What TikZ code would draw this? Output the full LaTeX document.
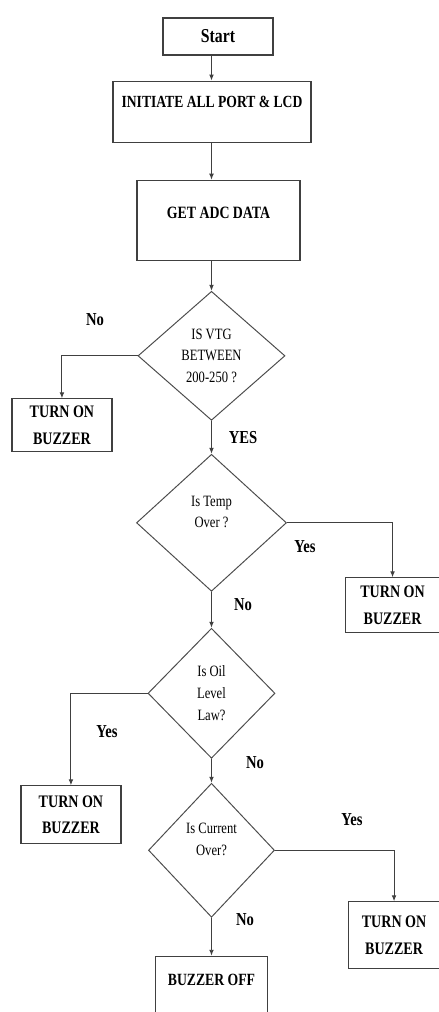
\documentclass[tikz,border=0pt]{standalone}
\usepackage{fontspec}
\setmainfont{Liberation Serif}[FakeStretch=0.8]
\usepackage{tikz}
\usetikzlibrary{shapes.geometric,positioning,arrows.meta}

\tikzset{
  box/.style={draw=black!75,line width=0.8pt,align=center,inner sep=2pt,
    font=\bfseries\fontsize{12.5}{19}\selectfont},
  dec/.style={diamond,draw=black!70,line width=0.7pt,inner sep=0pt,align=center,
    font=\fontsize{11.2}{15.5}\selectfont},
  lbl/.style={font=\bfseries\fontsize{13}{15}\selectfont},
  arr/.style={draw=black!75,line width=0.7pt,-{Latex[length=1.5mm,width=1.2mm]}},
}

\begin{document}
\begin{tikzpicture}
  \useasboundingbox (-5.45,0.9125) rectangle (5.525,-24.3875);
  % main column
  \node [box,minimum width=2.75cm,minimum height=0.925cm,font=\bfseries\fontsize{14}{16}\selectfont] (start) at (0,0) {Start};
  \node [box,minimum width=4.95cm,minimum height=1.525cm,font=\bfseries\fontsize{12.1}{20}\selectfont] [below=0.625cm of start,xshift=-0.15cm] (init) {INITIATE ALL PORT \& LCD\\[-6pt]~};
  \node [box,minimum width=4.075cm,minimum height=2cm,font=\bfseries\fontsize{12.3}{20}\selectfont] [below=0.925cm of init,xshift=0.1625cm] (getadc) {GET ADC DATA\\[-10pt]~};
  \node [dec,minimum width=3.675cm,minimum height=3.225cm] [below=0.75cm of getadc,xshift=-0.175cm] (vtg) {IS VTG\\BETWEEN\\200-250 ?};
  \node [dec,minimum width=3.75cm,minimum height=3.425cm] [below=0.825cm of vtg] (temp) {Is Temp\\Over ?\\~};
  \node [dec,minimum width=3.175cm,minimum height=3.25cm] [below=0.9cm of temp] (oil) {Is Oil\\Level\\Law?};
  \node [dec,minimum width=3.15cm,minimum height=3.35cm] [below=0.6cm of oil] (cur) {Is Current\\Over?\\~};
  \node [box,minimum width=2.8cm,minimum height=1.475cm,font=\bfseries\fontsize{12.2}{20}\selectfont] [below=0.95cm of cur] (off) {BUZZER OFF\\[-12pt]~};
  % buzzer boxes
  \node [box,minimum width=2.5cm,minimum height=1.325cm] [below left=1.0625cm and 0.625cm of vtg.west] (buz1) {TURN ON\\BUZZER};
  \node [box,minimum width=2.35cm,minimum height=1.375cm] [below right=1.3625cm and 1.45cm of temp.east] (buz2) {TURN ON\\BUZZER};
  \node [box,minimum width=2.5cm,minimum height=1.45cm] [below left=2.3cm and 0.65cm of oil.west] (buz3) {TURN ON\\BUZZER};
  \node [box,minimum width=2.275cm,minimum height=1.675cm] [below right=1.275cm and 1.825cm of cur.east] (buz4) {TURN ON\\BUZZER};
  % labels
  \node [lbl] (no1) at (-3.075,-7.0875) {No};
  \node [lbl] (yes1) at (0.625,-10.0375) {YES};
  \node [lbl] (yes2) at (2.175,-12.7625) {Yes};
  \node [lbl] (no2) at (0.625,-14.2125) {No};
  \node [lbl] (yes3) at (-2.775,-17.3875) {Yes};
  \node [lbl] (no3) at (0.925,-18.1625) {No};
  \node [lbl] (yes4) at (3.35,-19.5875) {Yes};
  \node [lbl] (no4) at (0.675,-22.0875) {No};
  % connectors
  \draw [arr] (start.south -| vtg.north) -- (init.north -| vtg.north);
  \draw [arr] (init.south -| vtg.north) -- (getadc.north -| vtg.north);
  \draw [arr] (getadc.south -| vtg.north) -- (vtg.north);
  \draw [arr] (vtg.south) -- (temp.north);
  \draw [arr] (temp.south) -- (oil.north);
  \draw [arr] (oil.south) -- (cur.north);
  \draw [arr] (cur.south) -- (off.north -| cur.south);
  \draw [arr] (vtg.west) -| (buz1.north);
  \draw [arr] (temp.east) -| (buz2.north);
  \draw [arr] (oil.west) -| (buz3.north);
  \draw [arr] (cur.east) -| (buz4.north);
\end{tikzpicture}
\end{document}
